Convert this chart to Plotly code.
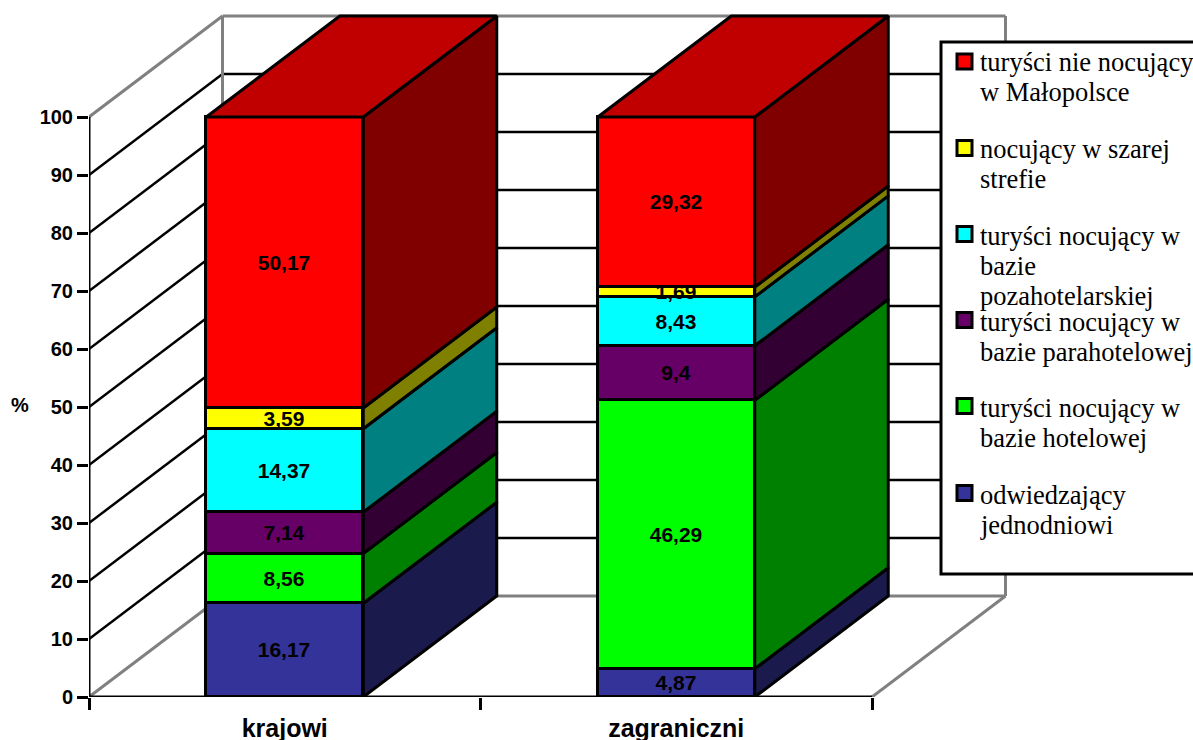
import plotly.graph_objects as go

categories = ["krajowi", "zagraniczni"]
series_names = ["odwiedzający jednodniowi", "turyści nocujący w bazie hotelowej",
                "turyści nocujący w bazie parahotelowej", "turyści nocujący w bazie pozahotelarskiej",
                "nocujący w szarej strefie", "turyści nie nocujący w Małopolsce"]
krajowi = [16.17, 8.56, 7.14, 14.37, 3.59, 50.17]
zagraniczni = [4.87, 46.29, 9.4, 8.43, 1.69, 29.32]
labels_krajowi = ["16,17", "8,56", "7,14", "14,37", "3,59", "50,17"]
labels_zagraniczni = ["4,87", "46,29", "9,4", "8,43", "1,69", "29,32"]
front_colors = ["#333399", "#00FF00", "#660066", "#00FFFF", "#FFFF00", "#FF0000"]
side_colors = ["#1A1A4D", "#008000", "#330033", "#008080", "#808000", "#800000"]
top_color = "#C00000"
y_ticks = [0, 10, 20, 30, 40, 50, 60, 70, 80, 90, 100]
legend_lines = [
    ["turyści nie nocujący", "w Małopolsce"],
    ["nocujący w szarej", "strefie"],
    ["turyści nocujący w", "bazie", "pozahotelarskiej"],
    ["turyści nocujący w", "bazie parahotelowej"],
    ["turyści nocujący w", "bazie hotelowej"],
    ["odwiedzający", "jednodniowi"],
]
legend_colors = front_colors[::-1]
legend_swatch_y = [61.5, 148, 234, 320, 406, 493]
legend_text_y = [62, 149, 236, 322, 408, 495]

W, H = 1193, 740
LEFT, BOTTOM = 89, 697
PX_PER_CAT = 391.5
PX_PER_UNIT = 5.8
DX = 133.5 / PX_PER_CAT
DY = 101 / PX_PER_UNIT
BAR_W = 157 / PX_PER_CAT
bar_x = [0.5, 1.5]
LINE = dict(color="black", width=3)
GRID = dict(color="black", width=2.5)
GREY = dict(color="#808080", width=3)
SERIF = "Liberation Serif, Times New Roman, serif"
SANS = "Liberation Sans, Arial, sans-serif"

def px(x):
    return (x - LEFT) / (W - LEFT)
def py(y):
    return (BOTTOM - y) / BOTTOM

fig = go.Figure()
table = [krajowi, zagraniczni]
texts = [labels_krajowi, labels_zagraniczni]
for i, name in enumerate(series_names):
    fig.add_trace(go.Bar(
        x=bar_x, y=[table[0][i], table[1][i]], width=BAR_W, name=name,
        text=[texts[0][i], texts[1][i]], textposition="inside", insidetextanchor="middle",
        constraintext="none", textangle=0,
        textfont=dict(family=SANS, size=21, color="black", weight="bold"),
        marker=dict(color=front_colors[i], line=LINE), showlegend=False, hoverinfo="skip"))

# oblique side and top faces, computed from the stacked values
for c, vals in enumerate(table):
    right = bar_x[c] + BAR_W / 2
    left = bar_x[c] - BAR_W / 2
    base = 0.0
    for i, v in enumerate(vals):
        top = base + v
        fig.add_trace(go.Scatter(
            x=[right, right + DX, right + DX, right, right],
            y=[base, base + DY, top + DY, top, base],
            mode="lines", fill="toself", fillcolor=side_colors[i], line=LINE,
            showlegend=False, hoverinfo="skip", cliponaxis=False))
        base = top
    fig.add_trace(go.Scatter(
        x=[left, right, right + DX, left + DX, left],
        y=[base, base, base + DY, base + DY, base],
        mode="lines", fill="toself", fillcolor=top_color, line=LINE,
        showlegend=False, hoverinfo="skip", cliponaxis=False))

shapes = []
# walls and floor
for t in y_ticks:
    style = GREY if t in (0, 100) else GRID
    shapes.append(dict(type="line", x0=0, y0=t, x1=DX, y1=t + DY, line=style, layer="below"))
    shapes.append(dict(type="line", x0=DX, y0=t + DY, x1=2 + DX, y1=t + DY, line=style, layer="below"))
shapes.append(dict(type="line", x0=DX, y0=DY, x1=DX, y1=100 + DY, line=GREY, layer="below"))
shapes.append(dict(type="line", x0=2 + DX, y0=DY, x1=2 + DX, y1=100 + DY, line=GREY, layer="below"))
shapes.append(dict(type="line", x0=2, y0=0, x1=2 + DX, y1=DY, line=GREY, layer="below"))
# axis lines
shapes.append(dict(type="line", x0=0, y0=0, x1=0, y1=100, line=LINE))
shapes.append(dict(type="line", x0=0, y0=0, x1=2, y1=0, line=LINE))
for s in shapes:
    s.update(xref="x", yref="y")

# legend box
shapes.append(dict(type="rect", xref="paper", yref="paper", x0=px(941), x1=px(1200), y0=py(574), y1=py(42),
                   line=LINE, fillcolor="white", layer="above"))
annotations = []
for lines, col, sy, ty in zip(legend_lines, legend_colors, legend_swatch_y, legend_text_y):
    shapes.append(dict(type="rect", xref="paper", yref="paper", x0=px(957), x1=px(972), y0=py(sy + 7.5), y1=py(sy - 7.5),
                       line=LINE, fillcolor=col, layer="above"))
    for k, line in enumerate(lines):
        annotations.append(dict(text=line, xref="paper", yref="paper", x=px(978), y=py(ty + 30 * k),
                                xanchor="left", yanchor="middle", showarrow=False,
                                font=dict(family=SERIF, size=26.5, color="black")))
annotations.append(dict(text="%", xref="paper", yref="paper", x=px(20), y=py(405), xanchor="center", yanchor="middle",
                        showarrow=False, font=dict(family=SANS, size=20, color="black", weight="bold")))
annotations.append(dict(text="Struktura według kategorii odwiedzających (krajowi i zagraniczni)",
                        xref="paper", yref="paper", x=px(1056), y=py(2), xanchor="right", yanchor="bottom",
                        showarrow=False, font=dict(family=SERIF, size=25, color="black", weight="bold")))

fig.update_layout(
    template="none",
    width=W, height=H, barmode="stack", bargap=0, paper_bgcolor="white", plot_bgcolor="white",
    margin=dict(l=LEFT, r=0, t=0, b=H - BOTTOM, pad=0), showlegend=False,
    shapes=shapes, annotations=annotations,
    xaxis=dict(range=[0, (W - LEFT) / PX_PER_CAT], tickvals=bar_x, ticktext=categories, ticks="outside",
               ticklen=9, tickwidth=0, tickcolor="white", showgrid=False, zeroline=False, showline=False,
               automargin=False,
               tickfont=dict(family=SANS, size=25, color="black", weight="bold"),
               minor=dict(tickvals=[0, 1, 2], ticks="outside", ticklen=12, tickwidth=3, tickcolor="black", showgrid=False)),
    yaxis=dict(range=[0, BOTTOM / PX_PER_UNIT], tickvals=y_ticks, ticks="outside", ticklen=11, tickwidth=3,
               tickcolor="black", showgrid=False, zeroline=False, showline=False, automargin=False,
               tickfont=dict(family=SANS, size=20, color="black", weight="bold")),
)

fig.write_html("out.html", config=dict(displayModeBar=False),
               post_script="document.body.style.margin='0';document.body.style.overflow='hidden';")
